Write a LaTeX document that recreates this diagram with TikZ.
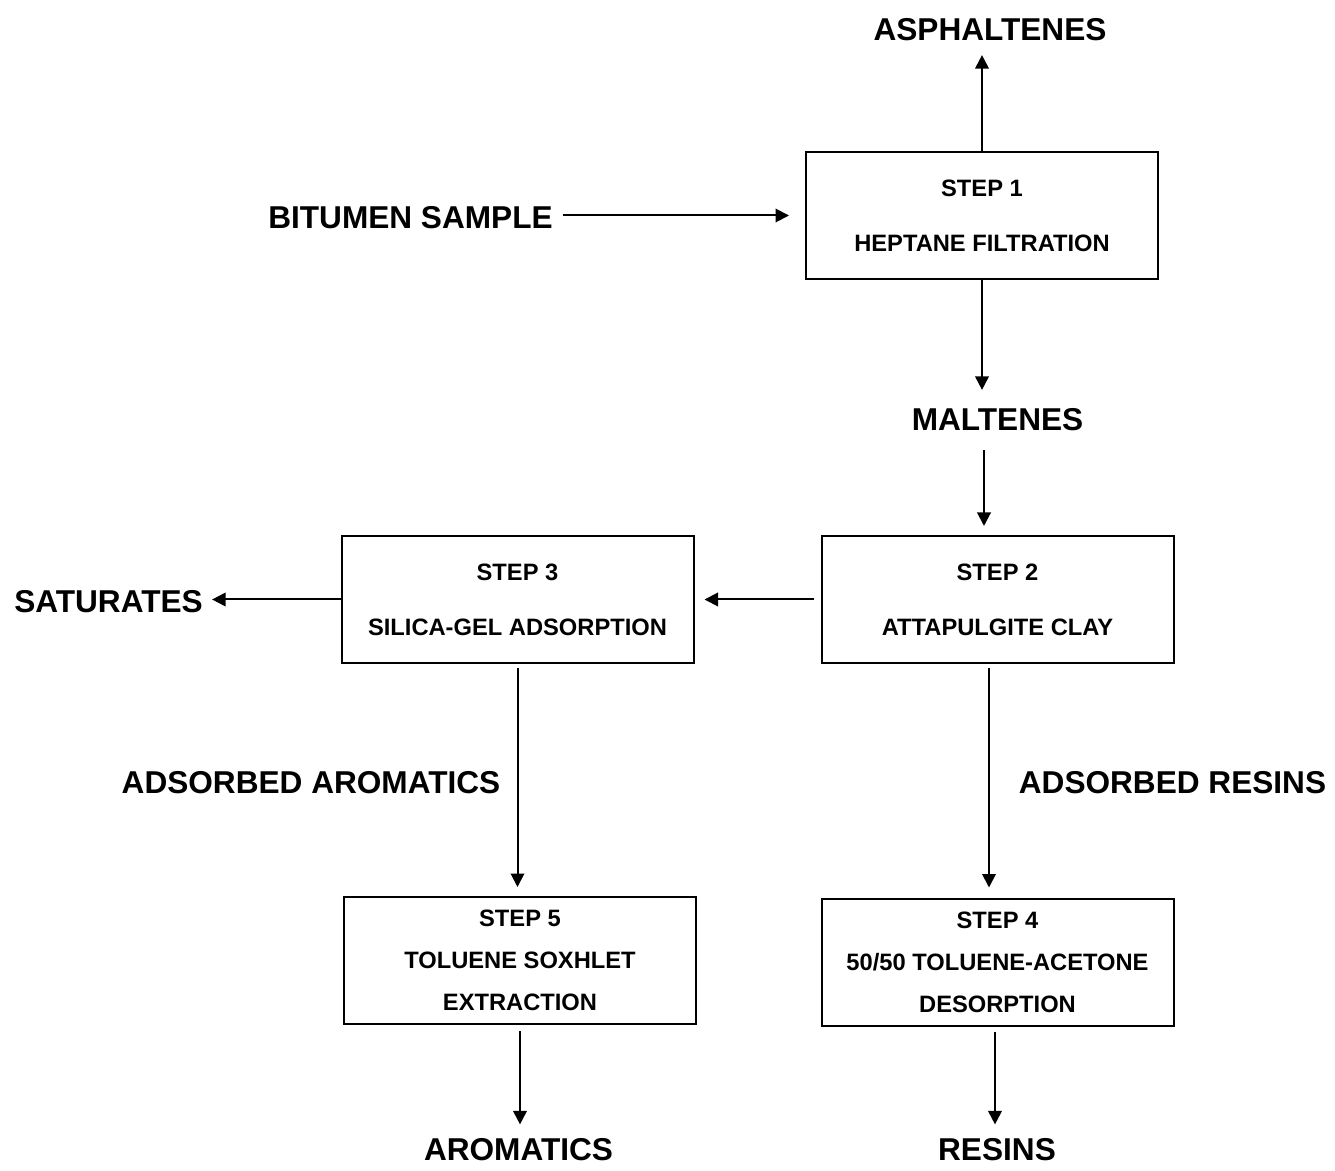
\documentclass[tikz,border=0pt]{standalone}
\usepackage{fontspec}
\setmainfont{Liberation Sans}
\usepackage{tikz}
\usetikzlibrary{arrows.meta}
\tikzstyle{NodeStep}=[draw,line width=1pt,minimum width=176pt,
minimum height=63.5pt,inner sep=0pt,align=center,
font=\fontsize{11.85}{21}\selectfont\bfseries]
\tikzstyle{NodeLabel}=[inner sep=0pt,font=\fontsize{15.8}{19}\selectfont\bfseries]
\tikzstyle{Edge}=[line width=1pt,-{Triangle[length=6.75pt,width=6.75pt]}]

\begin{document}
\begin{tikzpicture}[x=0.5pt,y=-0.5pt]
        \useasboundingbox(0,0)rectangle(1335,1171);
        \node[NodeStep](s1)at(982.00,215.50){STEP 1\\[6.5pt]HEPTANE FILTRATION};
        \node[NodeStep](s2)at(997.50,599.50){STEP 2\\[6.5pt]ATTAPULGITE CLAY};
        \node[NodeStep](s3)at(517.50,599.50){STEP 3\\[6.5pt]SILICA-GEL ADSORPTION};
        \node[NodeStep](s4)at(997.50,962.00){STEP 4\\50/50 TOLUENE-ACETONE\\DESORPTION};
        \node[NodeStep](s5)at(520.00,960.50){STEP 5\\TOLUENE SOXHLET\\EXTRACTION};
        \node[NodeLabel](bitumen)at(410.50,218.00){BITUMEN SAMPLE};
        \node[NodeLabel](asph)at(990.00,30.00){ASPHALTENES};
        \node[NodeLabel](malt)at(997.50,420.00){MALTENES};
        \node[NodeLabel](sat)at(108.50,602.00){SATURATES};
        \node[NodeLabel](adsarom)at(311.00,783.00){ADSORBED AROMATICS};
        \node[NodeLabel](adsres)at(1172.50,783.00){ADSORBED RESINS};
        \node[NodeLabel](arom)at(518.50,1150.00){AROMATICS};
        \node[NodeLabel](res)at(997.00,1150.00){RESINS};
        \draw[Edge,shorten <=5pt,shorten >=8pt](bitumen.east|-s1)--(s1.west);
        \draw[Edge,shorten >=6.75pt](s1.north)--(s1.north|-asph.south);
        \draw[Edge,shorten >=9.25pt](s1.south)--(s1.south|-malt.north);
        \draw[Edge,shorten <=9.25pt,shorten >=4.5pt]([xshift=-6.75pt]malt.south)--([xshift=-6.75pt]malt.south|-s2.north);
        \draw[Edge,shorten <=3.5pt,shorten >=5pt](s2.west)--(s3.east);
        \draw[Edge,shorten >=4.5pt](s3.west)--(sat.east|-s3.west);
        \draw[Edge,shorten <=2pt,shorten >=4.5pt](s3.south)--(s3.south|-s5.north);
        \draw[Edge,shorten <=2pt,shorten >=5pt]([xshift=-4.25pt]s2.south)--([xshift=-4.25pt]s2.south|-s4.north);
        \draw[Edge,shorten <=3pt,shorten >=7pt](s5.south)--(s5.south|-arom.north);
        \draw[Edge,shorten <=2.5pt,shorten >=7pt]([xshift=-1.25pt]s4.south)--([xshift=-1.25pt]s4.south|-res.north);
    \end{tikzpicture}
\end{document}
